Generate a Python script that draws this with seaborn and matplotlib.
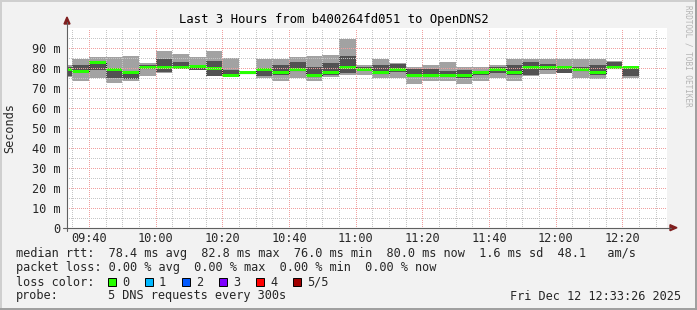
import numpy as np
import pandas as pd
import matplotlib
matplotlib.use("Agg")
import matplotlib.pyplot as plt
import seaborn as sns
from matplotlib.patches import Polygon, Rectangle
from matplotlib.lines import Line2D

# ---------------- data ----------------
bin_end = ["09:35", "09:40", "09:45", "09:50", "09:55", "10:00", "10:05", "10:10",
           "10:15", "10:20", "10:25", "10:30", "10:35", "10:40", "10:45", "10:50",
           "10:55", "11:00", "11:05", "11:10", "11:15", "11:20", "11:25", "11:30",
           "11:35", "11:40", "11:45", "11:50", "11:55", "12:00", "12:05", "12:10",
           "12:15", "12:20", "12:25"]
ping_min = [75.2, 73.3, 75.0, 72.2, 73.5, 75.9, 77.5, 79.5, 78.8, 75.8, 75.5, 76.8,
            75.0, 73.4, 74.7, 73.4, 75.5, 76.4, 76.4, 75.0, 75.0, 72.0, 73.4, 73.4,
            71.9, 73.4, 75.0, 73.4, 76.0, 77.0, 77.3, 75.0, 74.4, 79.3, 75.0]
ping_q1 = [76.0, 77.8, 78.9, 75.0, 74.4, 79.8, 77.8, 79.8, 79.0, 76.0, 76.0, 77.0,
           76.0, 76.5, 78.5, 75.5, 76.5, 77.5, 78.5, 77.0, 78.0, 75.5, 75.5, 75.5,
           75.0, 76.5, 77.5, 76.4, 76.4, 79.0, 77.5, 78.5, 76.5, 79.5, 76.0]
median = [79.0, 78.2, 82.8, 78.9, 77.6, 80.1, 80.3, 80.3, 80.6, 79.7, 76.3, 77.4,
          79.0, 77.4, 79.1, 76.1, 77.4, 80.2, 79.3, 77.5, 79.2, 76.2, 76.2, 76.2,
          76.0, 77.4, 79.3, 77.4, 80.2, 80.0, 80.0, 79.0, 77.5, 80.0, 80.0]
ping_q3 = [80.5, 81.4, 83.5, 79.3, 78.0, 81.5, 84.3, 83.0, 81.5, 83.3, 78.8, 78.0,
           80.0, 81.4, 82.9, 80.4, 82.4, 85.9, 80.5, 81.4, 81.8, 79.5, 79.4, 78.5,
           78.9, 78.0, 80.5, 81.4, 83.0, 82.0, 80.5, 80.2, 81.4, 83.0, 80.4]
ping_max = [81.2, 84.5, 85.2, 85.5, 86.0, 82.5, 88.3, 86.8, 85.3, 88.3, 85.0, 78.5,
            84.3, 84.3, 85.4, 85.9, 86.4, 94.4, 81.4, 84.3, 82.4, 80.4, 81.4, 82.9,
            80.4, 80.4, 81.4, 84.4, 84.4, 84.4, 84.4, 84.4, 84.4, 83.2, 80.5]

x_tick_labels = ["09:40", "10:00", "10:20", "10:40", "11:00", "11:20", "11:40", "12:00", "12:20"]
y_tick_values = [0, 10, 20, 30, 40, 50, 60, 70, 80, 90]
y_tick_labels = ["0", "10 m", "20 m", "30 m", "40 m", "50 m", "60 m", "70 m", "80 m", "90 m"]
now_label = "12:33:26"

title = "Last 3 Hours from b400264fd051 to OpenDNS2"
legend_lines = [
    "median rtt:  78.4 ms avg  82.8 ms max  76.0 ms min  80.0 ms now  1.6 ms sd  48.1   am/s",
    "packet loss: 0.00 % avg  0.00 % max  0.00 % min  0.00 % now",
]
loss_labels = ["0", "1", "2", "3", "4", "5/5"]
loss_colors = ["#26ff00", "#00b8ff", "#0059ff", "#7e00ff", "#ff0000", "#a10000"]
probe_text = "5 DNS requests every 300s"
date_text = "Fri Dec 12 12:33:26 2025"

# ---------------- styling ----------------
sns.set_theme(style="white")
plt.rcParams["font.family"] = ["DejaVu Sans Mono", "DejaVu Sans"]

W, H = 697, 310
BG = "#f2f2f2"
FS = 8.55
fig = plt.figure(figsize=(W / 100, H / 100), dpi=100, facecolor=BG)


def fx(px):
    return px / W


def fy(py):
    return 1 - py / H


LEFT, TOP, RIGHT, BOTTOM = 67, 27.7, 667, 227.7
ax = fig.add_axes([fx(LEFT), fy(BOTTOM), (RIGHT - LEFT) / W, (BOTTOM - TOP) / H])
ax.set_facecolor("white")
for s in ax.spines.values():
    s.set_visible(False)


def tmin(s):
    h, m, *rest = s.split(":")
    sec = int(rest[0]) if rest else 0
    return int(h) * 60 + int(m) + sec / 60.0


end_t = np.array([tmin(s) for s in bin_end], float)
xe = np.r_[end_t - 5, end_t[-1]]


def ext(a):
    a = np.asarray(a, float)
    return np.r_[a, a[-1]]


t_now = tmin(now_label)
ax.set_xlim(t_now - 180, t_now)
ax.set_ylim(0, 100)

# smoke
ax.fill_between(xe, ext(ping_min), ext(ping_max), step="post", color="#a2a2a2", lw=0, zorder=1)
ax.fill_between(xe, ext(ping_q1), ext(ping_q3), step="post", color="#525252", lw=0, zorder=1.1)

# median: thin dark step line + green band (loss 0)
df = pd.DataFrame({"t": xe, "median": ext(median)})
sns.lineplot(data=df, x="t", y="median", drawstyle="steps-post", color="#202020",
             lw=0.8, ax=ax, zorder=1.2)
band = 0.7
ax.fill_between(xe, ext(median) - band, ext(median) + band, step="post",
                color="#26ff00", lw=0, zorder=1.3)
ax.set_xlabel("")
ax.set_ylabel("")

# ticks and grid
xt = [tmin(s) for s in x_tick_labels]
ax.set_xticks(xt)
ax.set_xticklabels(x_tick_labels, fontsize=FS)
ax.set_xticks(np.arange(575, 755, 5), minor=True)
ax.set_yticks(y_tick_values)
ax.set_yticklabels(y_tick_labels, fontsize=FS)
ax.set_yticks(np.arange(5, 100, 10), minor=True)
ax.tick_params(axis="both", which="both", length=0)
ax.tick_params(axis="x", pad=3)
ax.tick_params(axis="y", pad=5)

ax.set_axisbelow(False)
ax.grid(True, which="minor", color="#c6c6c6", lw=0.72, ls=(0, (1, 2)), antialiased=False)
ax.grid(True, which="major", color="#f0a0a0", lw=0.72, ls=(0, (1, 2)), antialiased=False)

# axes lines + arrows (rrdtool style)
axis_col = "#606060"
arrow_col = "#801f1f"
fig.add_artist(Line2D([fx(LEFT), fx(LEFT)], [fy(231), fy(22)], color=axis_col, lw=0.8))
fig.add_artist(Line2D([fx(63), fx(671)], [fy(BOTTOM), fy(BOTTOM)], color=axis_col, lw=0.8))
fig.add_artist(Polygon([[fx(64), fy(24)], [fx(70), fy(24)], [fx(67), fy(17)]],
                       closed=True, color=arrow_col, transform=fig.transFigure))
fig.add_artist(Polygon([[fx(670), fy(224.7)], [fx(670), fy(230.7)], [fx(677), fy(BOTTOM)]],
                       closed=True, color=arrow_col, transform=fig.transFigure))

# texts
fig.text(fx(334), fy(20), title, ha="center", va="center", fontsize=8.8, color="black")
fig.text(fx(10), fy(128), "Seconds", rotation=90, ha="center", va="center", fontsize=FS)
fig.text(fx(688), fy(5), "RRDTOOL / TOBI OETIKER", rotation=270, ha="center", va="top",
         fontsize=5.5, color="#b4b4b4")

ys = [254, 268, 282, 296]
for line, yy in zip(legend_lines, ys[:2]):
    fig.text(fx(16), fy(yy), line, ha="left", va="center", fontsize=FS)
fig.text(fx(16), fy(ys[2]), "loss color:", ha="left", va="center", fontsize=FS)
sq_x = [108, 145, 182, 219, 256, 293]
for lab, col, sx in zip(loss_labels, loss_colors, sq_x):
    fig.add_artist(Rectangle((fx(sx), fy(ys[2] + 4)), 8 / W, 8 / H, transform=fig.transFigure,
                             facecolor=col, edgecolor="black", lw=0.7))
    fig.text(fx(sx + 14), fy(ys[2]), lab, ha="left", va="center", fontsize=FS)
fig.text(fx(16), fy(ys[3]), "probe:", ha="left", va="center", fontsize=FS)
fig.text(fx(108), fy(ys[3]), probe_text, ha="left", va="center", fontsize=FS)
fig.text(fx(681), fy(ys[3]), date_text, ha="right", va="center", fontsize=FS)

# 3D frame
fig.add_artist(Line2D([0, 1], [fy(0.5), fy(0.5)], color="#cfcfcf", lw=1.4))
fig.add_artist(Line2D([fx(0.5), fx(0.5)], [0, 1], color="#cfcfcf", lw=1.4))
fig.add_artist(Line2D([0, 1], [fy(309), fy(309)], color="#9e9e9e", lw=1.4))
fig.add_artist(Line2D([fx(696), fx(696)], [0, 1], color="#9e9e9e", lw=1.4))

fig.savefig("out.png", dpi=100, facecolor=BG)
